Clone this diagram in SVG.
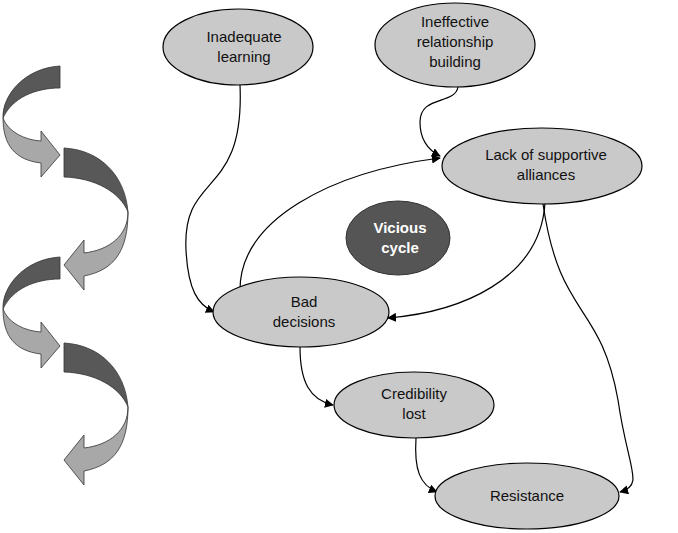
<svg xmlns="http://www.w3.org/2000/svg" width="678" height="533" viewBox="0 0 678 533">
<style>
.n{fill:#c9c9c9;stroke:#000;stroke-width:1.2}
.t{font-family:"Liberation Sans",Arial,sans-serif;font-size:15px;text-anchor:middle;fill:#111}
.c{fill:none;stroke:#000;stroke-width:1.2;marker-end:url(#a)}
.d{fill:#585858;stroke:#333;stroke-width:0.8}
.l{fill:#a8a8a8;stroke:#333;stroke-width:0.8}
</style>
<defs><marker id="a" viewBox="0 0 10 10" refX="9" refY="5" markerWidth="9" markerHeight="9" markerUnits="userSpaceOnUse" orient="auto"><path d="M0,0L10,5L0,10Z" fill="#000"/></marker></defs>
<rect width="678" height="533" fill="#fff"/>
<g id="spiral">
<g id="s1"><path class="d" d="M60,66 L60,88 C35,88 12,98 3,118 C2,95 25,68 60,66 Z"/><path class="l" d="M3,118 C8,132 25,140 41,141 L41,131 L60,155 L41,177 L41,163 C15,160 3,145 3,118 Z"/></g>
<g id="s2"><path class="d" d="M64,148 C100,150 125,175 128,212 C120,192 95,178 64,177 Z"/><path class="l" d="M128,212 C128,235 110,250 84,253 L84,240 L64,265 L84,290 L84,276 C115,270 128,250 128,212 Z"/></g>
<g id="s3" transform="translate(0,191)"><path class="d" d="M60,66 L60,88 C35,88 12,98 3,118 C2,95 25,68 60,66 Z"/><path class="l" d="M3,118 C8,132 25,140 41,141 L41,131 L60,155 L41,177 L41,163 C15,160 3,145 3,118 Z"/></g>
<g id="s4" transform="translate(0,195)"><path class="d" d="M64,148 C100,150 125,175 128,212 C120,192 95,178 64,177 Z"/><path class="l" d="M128,212 C128,235 110,250 84,253 L84,240 L64,265 L84,290 L84,276 C115,270 128,250 128,212 Z"/></g>
</g>
<g id="connectors">
<path class="c" d="M240,85 C245,200 182,170 186,250 C188,290 198,305 214,312"/>
<path class="c" d="M458,87 C455,105 420,95 420,122 C420,140 428,150 440,156"/>
<path class="c" d="M240,290 C240,220 330,172 440,158"/>
<path class="c" d="M545,203 C540,280 460,312 388,318"/>
<path class="c" d="M543,204 C560,320 600,300 618,400 C628,470 645,485 620,492"/>
<path class="c" d="M300,347 C300,382 310,400 333,405"/>
<path class="c" d="M416,438 C414,470 420,485 437,492"/>
</g>
<g id="inadequate"><ellipse class="n" cx="238" cy="47" rx="75" ry="38"/><text class="t" x="244" y="42">Inadequate</text><text class="t" x="244" y="62">learning</text></g>
<g id="ineffective"><ellipse class="n" cx="455" cy="45" rx="80" ry="42"/><text class="t" x="455" y="27">Ineffective</text><text class="t" x="455" y="47">relationship</text><text class="t" x="455" y="67">building</text></g>
<g id="lack"><ellipse class="n" cx="542" cy="166" rx="100" ry="38"/><text class="t" x="546" y="160">Lack of supportive</text><text class="t" x="546" y="180">alliances</text></g>
<g id="vicious"><ellipse cx="398" cy="238" rx="52" ry="37" fill="#555" stroke="#333"/><text class="t" x="400" y="233" fill="#fff" style="fill:#fff;font-weight:bold">Vicious</text><text class="t" x="400" y="253" style="fill:#fff;font-weight:bold">cycle</text></g>
<g id="bad"><ellipse class="n" cx="301" cy="312" rx="88" ry="35"/><text class="t" x="304" y="307">Bad</text><text class="t" x="304" y="327">decisions</text></g>
<g id="credibility"><ellipse class="n" cx="414" cy="405" rx="80" ry="33"/><text class="t" x="414" y="399">Credibility</text><text class="t" x="414" y="419">lost</text></g>
<g id="resistance"><ellipse class="n" cx="527" cy="496" rx="92" ry="33"/><text class="t" x="527" y="501">Resistance</text></g>
</svg>
